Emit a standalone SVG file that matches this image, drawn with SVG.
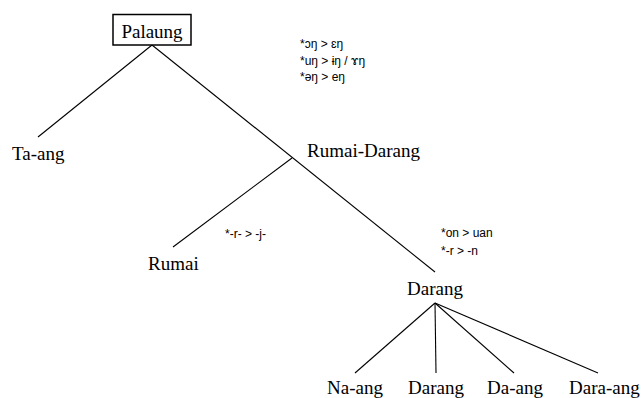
<svg xmlns="http://www.w3.org/2000/svg" width="643" height="398" viewBox="0 0 643 398">
  <style>
    .lang { font-family: "Liberation Serif", "Times New Roman", serif; font-size: 19px; fill: #000; }
    .note { font-family: "Liberation Sans", Arial, sans-serif; font-size: 12px; fill: #000; }
    .edge { stroke: #000; stroke-width: 1.1; fill: none; }
  </style>
  <rect width="643" height="398" fill="#fff"/>

  <!-- tree branches -->
  <g id="connectors">
    <line class="edge" x1="152" y1="45" x2="38" y2="137"/>
    <line class="edge" x1="152" y1="45" x2="435" y2="272"/>
    <line class="edge" x1="292" y1="158" x2="173" y2="247"/>
    <line class="edge" x1="435" y1="303" x2="355" y2="373"/>
    <line class="edge" x1="435" y1="303" x2="436" y2="373"/>
    <line class="edge" x1="435" y1="303" x2="514" y2="373"/>
    <line class="edge" x1="435" y1="303" x2="598" y2="373"/>
  </g>

  <g id="palaung">
    <rect x="113" y="14.5" width="78" height="30.5" fill="#fff" stroke="#000" stroke-width="1.5"/>
    <text class="lang" x="152" y="38" text-anchor="middle">Palaung</text>
  </g>
  <g id="ta-ang">
    <text class="lang" x="12" y="160">Ta-ang</text>
  </g>
  <g id="rumai-darang">
    <text class="lang" x="307" y="157">Rumai-Darang</text>
  </g>
  <g id="rumai">
    <text class="lang" x="148" y="270">Rumai</text>
  </g>
  <g id="darang">
    <text class="lang" x="407" y="295">Darang</text>
  </g>
  <g id="na-ang">
    <text class="lang" x="327" y="394">Na-ang</text>
  </g>
  <g id="darang-leaf">
    <text class="lang" x="408" y="394">Darang</text>
  </g>
  <g id="da-ang">
    <text class="lang" x="487" y="394">Da-ang</text>
  </g>
  <g id="dara-ang">
    <text class="lang" x="569" y="394">Dara-ang</text>
  </g>

  <!-- sound changes along the branches -->
  <g id="changes-rumai-darang">
    <text class="note" x="300" y="48">*ɔŋ &gt; ɛŋ</text>
    <text class="note" x="300" y="65">*uŋ &gt; ɨŋ / ɤŋ</text>
    <text class="note" x="300" y="81">*əŋ &gt; eŋ</text>
  </g>
  <g id="changes-rumai">
    <text class="note" x="225" y="238">*-r- &gt; -j-</text>
  </g>
  <g id="changes-darang">
    <text class="note" x="441" y="237">*on &gt; uan</text>
    <text class="note" x="441" y="255">*-r &gt; -n</text>
  </g>
</svg>
